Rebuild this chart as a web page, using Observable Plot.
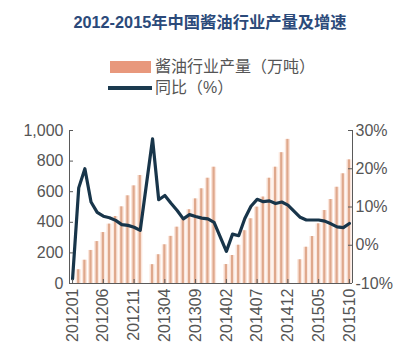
<!DOCTYPE html>
<html><head><meta charset="utf-8">
<script src="https://cdn.jsdelivr.net/npm/d3@7"></script>
<script src="https://cdn.jsdelivr.net/npm/@observablehq/plot@0.6"></script>
<style>
body{margin:0;background:#fff;font-family:"Liberation Sans",Arial,"Noto Sans CJK SC",sans-serif;}
#head{position:relative;width:420px;height:100px;}
.title{position:absolute;left:0;width:420px;top:12px;line-height:20px;text-align:center;font-weight:bold;font-size:16.3px;color:#2b4a7a;font-family:"Liberation Sans",Arial,"Noto Sans CJK SC",sans-serif;}
.lt{position:absolute;left:155px;font-size:16px;line-height:18px;color:#555;font-family:"Liberation Sans","Noto Sans CJK SC",sans-serif;white-space:nowrap;}
.sw1{position:absolute;left:110px;top:61px;width:41px;height:12px;background:#e8987c;}
.sw2{position:absolute;left:108px;top:86px;width:44px;height:4px;background:#1b3a4f;}
svg{display:block;}
</style></head>
<body>
<div id="head">
  <div class="title">2012-2015年中国酱油行业产量及增速</div>
  <div class="sw1"></div><div class="lt" style="top:58px">酱油行业产量（万吨）</div>
  <div class="sw2"></div><div class="lt" style="top:79px">同比（%）</div>
</div>
<div id="chart"></div>
<script>
const months = [
  "201201","201202","201203","201204","201205","201206","201207","201208","201209","201210","201211","201212",
  "201301","201302","201303","201304","201305","201306","201307","201308","201309","201310","201311","201312",
  "201401","201402","201403","201404","201405","201406","201407","201408","201409","201410","201411","201412",
  "201501","201502","201503","201504","201505","201506","201507","201508","201509","201510"
];
// 酱油行业产量（万吨）, cumulative within each year
const production = [
  null, 90, 152, 216, 274, 333, 388, 438, 501, 573, 638, 706,
  null, 123, 188, 253, 308, 368, 423, 482, 553, 619, 688, 760,
  null, 124, 183, 250, 345, 423, 499, 565, 688, 760, 855, 942,
  null, 155, 237, 307, 390, 477, 549, 629, 717, 808
];
// 同比（%）
const growth = [
  -8.8, 15.0, 20.0, 11.3, 8.6, 7.6, 7.2, 6.5, 5.4, 5.2, 4.7, 3.9,
  null, 27.8, 11.9, 13.0, 11.0, 9.1, 6.9, 8.0, 7.5, 7.1, 6.9, 6.0,
  null, -1.6, 2.9, 2.5, 7.0, 10.2, 12.0, 11.4, 11.6, 10.9, 11.3, 10.5,
  null, 7.3, 6.6, 6.6, 6.6, 6.3, 5.6, 4.8, 4.6, 5.7
];
const xTickLabels = ["201201","201206","201211","201304","201309","201402","201407","201412","201505","201510"];
const leftTicks = [0, 200, 400, 600, 800, 1000];
const rightTicks = [-10, 0, 10, 20, 30];

const pctToV = p => (p + 10) * 25; // -10%..30% onto 0..1000
const rows = months.map((m, i) => ({i, m, v: production[i], g: growth[i]}));
const bars = rows.filter(d => d.v != null);
const pts = rows.filter(d => d.g != null);
const xTickIdx = xTickLabels.map(l => months.indexOf(l));

const W = 420, H = 258, mL = 69, mR = 68, mT = 30, mB = 75;
const plotW = W - mL - mR, plotH = H - mT - mB;
const axisColor = "#5a5a5a";

const chart = Plot.plot({
  width: W, height: H,
  marginTop: mT, marginBottom: mB, marginLeft: mL, marginRight: mR,
  style: {fontFamily: "Liberation Sans, Arial, sans-serif", fontSize: "16px", color: "#555", background: "white", overflow: "visible"},
  x: {type: "linear", domain: [-0.5, months.length - 0.5]},
  y: {domain: [0, 1000]},
  marks: [
    Plot.rectY(bars, {x1: d => d.i - 0.42, x2: d => d.i + 0.42, y: "v", fill: "#fbe6dc"}),
    Plot.rectY(bars, {x1: d => d.i - 0.18, x2: d => d.i + 0.18, y: "v", fill: "#dfa88c"}),
    Plot.line(pts, {x: "i", y: d => pctToV(d.g), stroke: "#18354a", strokeWidth: 3.2, strokeLinejoin: "round"}),
    Plot.ruleX([-0.5, months.length - 0.5], {stroke: axisColor}),
    Plot.ruleY([0], {stroke: axisColor}),
    Plot.tickY(leftTicks, {y: d => d, insetRight: plotW - 4, stroke: axisColor}),
    Plot.tickY(rightTicks, {y: pctToV, insetLeft: plotW - 4, stroke: axisColor}),
    Plot.tickX(xTickIdx, {x: d => d, insetTop: plotH - 4, stroke: axisColor}),
    Plot.axisY({anchor: "left", ticks: leftTicks, tickFormat: d3.format(","), tickSize: 0, tickPadding: 6, label: null}),
    Plot.axisY({anchor: "right", ticks: rightTicks.map(pctToV), tickFormat: (d, k) => rightTicks[k] + "%", tickSize: 0, tickPadding: 3, label: null}),
    Plot.axisX({ticks: xTickIdx, tickFormat: i => months[i], tickRotate: -90, tickSize: 0, tickPadding: 5, label: null})
  ]
});
document.getElementById("chart").appendChild(chart);
</script>
</body></html>
